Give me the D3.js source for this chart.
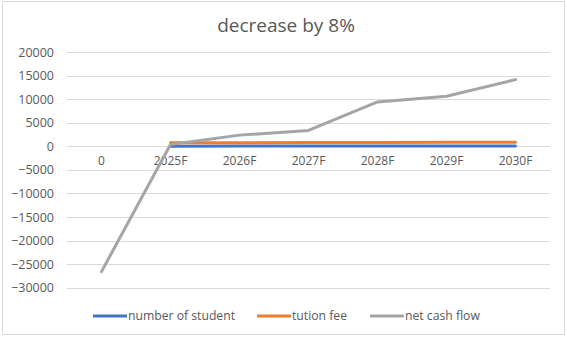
<!DOCTYPE html>
<html>
<head>
<meta charset="utf-8">
<script src="https://cdn.jsdelivr.net/npm/d3@7"></script>
<style>
  html, body { margin: 0; padding: 0; background: #fff; }
  svg { display: block; }
  text { font-family: "Open Sans", "Liberation Sans", sans-serif; fill: #595959; }
</style>
</head>
<body>
<svg id="chart" width="567" height="337"></svg>
<script>
// Forecast periods along the x axis
const categories = ["0", "2025F", "2026F", "2027F", "2028F", "2029F", "2030F"];

// Series values (null where a series has no value)
const numberOfStudent = [null, 60, 70, 80, 90, 100, 110];
const tuitionFee = [null, 780, 800, 820, 850, 880, 900];
const netCashFlow = [-26600, 400, 2400, 3400, 9450, 10650, 14200];

// Value axis ticks
const yTicks = [20000, 15000, 10000, 5000, 0, -5000, -10000, -15000, -20000, -25000, -30000];

const series = [
  { name: "number of student", values: numberOfStudent, color: "#4472C4" },
  { name: "tution fee", values: tuitionFee, color: "#ED7D31" },
  { name: "net cash flow", values: netCashFlow, color: "#A5A5A5" }
];

const svg = d3.select("#chart");
const W = 567, H = 337;
const plot = { left: 67, right: 550, top: 52.3, bottom: 287.6 };

// Outer chart border
svg.append("rect")
  .attr("x", 2.5).attr("y", 1.5)
  .attr("width", W - 5).attr("height", H - 4)
  .attr("fill", "#fff").attr("stroke", "#d9d9d9").attr("stroke-width", 1);

const x = d3.scaleBand().domain(categories).range([plot.left, plot.right]).padding(0);
const y = d3.scaleLinear().domain([-30000, 20000]).range([plot.bottom, plot.top]);

// Horizontal gridlines
svg.append("g")
  .selectAll("line")
  .data(yTicks)
  .join("line")
  .attr("x1", plot.left).attr("x2", plot.right)
  .attr("y1", d => Math.round(y(d)) + 0.5).attr("y2", d => Math.round(y(d)) + 0.5)
  .attr("stroke", "#d9d9d9").attr("stroke-width", 1);

// Y axis labels
const yAxis = d3.axisLeft(y).tickValues(yTicks).tickSize(0).tickPadding(0).tickFormat(d3.format("d"));
const gy = svg.append("g").attr("transform", `translate(${plot.left - 13},0)`).call(yAxis);
gy.select(".domain").remove();
gy.selectAll("text").attr("font-size", 12.5).style("fill", "#595959")
  .attr("font-family", "'Open Sans', sans-serif");

// Category labels sit just below the zero line
const xAxis = d3.axisBottom(x).tickSize(0).tickPadding(0);
const gx = svg.append("g").attr("transform", `translate(0,${y(0) + 10})`).call(xAxis);
gx.select(".domain").remove();
gx.selectAll("text").attr("font-size", 12).style("fill", "#595959")
  .attr("font-family", "'Open Sans', sans-serif");

// Lines
const line = d3.line()
  .defined(d => d.v !== null)
  .x(d => x(d.c) + x.bandwidth() / 2)
  .y(d => y(d.v));

svg.append("g")
  .selectAll("path")
  .data(series)
  .join("path")
  .attr("d", s => line(s.values.map((v, i) => ({ c: categories[i], v }))))
  .attr("fill", "none")
  .attr("stroke", s => s.color)
  .attr("stroke-width", 3)
  .attr("stroke-linejoin", "round")
  .attr("stroke-linecap", "round");

// Title
svg.append("text")
  .attr("x", 286).attr("y", 32)
  .attr("text-anchor", "middle")
  .attr("font-size", 19)
  .text("decrease by 8%");

// Legend
const legendX = [93, 257, 370];
const legend = svg.append("g")
  .selectAll("g")
  .data(series)
  .join("g")
  .attr("transform", (d, i) => `translate(${legendX[i]},316)`);
legend.append("line")
  .attr("x1", 0).attr("x2", 34).attr("y1", 0).attr("y2", 0)
  .attr("stroke", d => d.color).attr("stroke-width", 3);
legend.append("text")
  .attr("x", 35).attr("y", 4)
  .attr("font-size", 12.2)
  .text(d => d.name);
</script>
</body>
</html>
